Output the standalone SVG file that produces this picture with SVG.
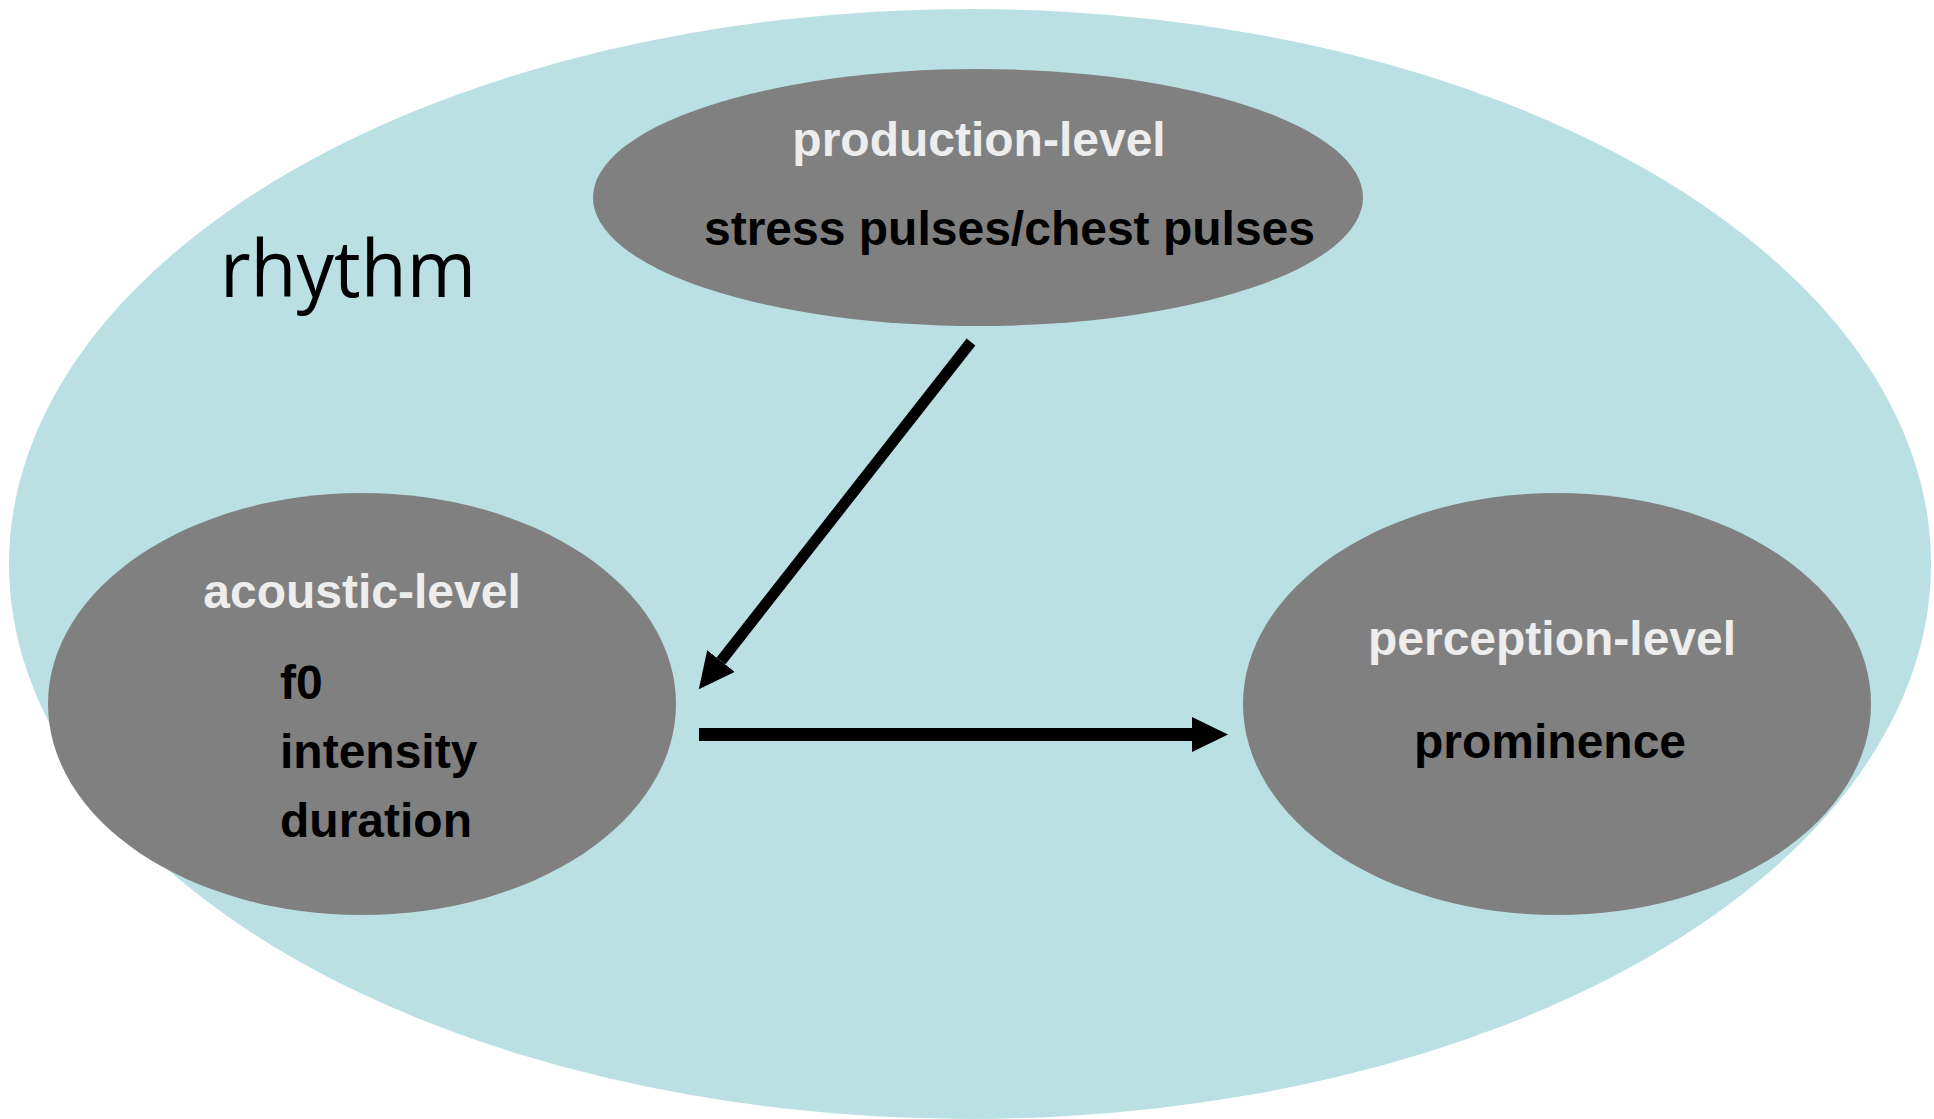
<svg xmlns="http://www.w3.org/2000/svg" width="1934" height="1119" viewBox="0 0 1934 1119">
  <style>
    .node { fill: #808080; }
    .head { font-family: "Liberation Sans", Arial, sans-serif; font-weight: bold; font-size: 48px; fill: #EDEDED; }
    .body { font-family: "Liberation Sans", Arial, sans-serif; font-weight: bold; font-size: 48px; fill: #000000; }
    .conn { stroke: #000000; fill: none; }
  </style>
  <defs>
    <marker id="arrow" markerUnits="userSpaceOnUse" markerWidth="37" markerHeight="36" refX="0" refY="17.5" orient="auto" viewBox="0 0 37 36">
      <path d="M0,0 L36,17.5 L0,35 Z" fill="#000000"/>
    </marker>
  </defs>
  <rect width="1934" height="1119" fill="#FFFFFF"/>
  <g id="rhythm">
    <ellipse cx="970" cy="564" rx="961" ry="555" fill="#BAE0E3"/>
    <text x="220" y="297" font-family="'Open Sans', 'Noto Sans', sans-serif" font-size="79" fill="#000000" textLength="256" lengthAdjust="spacingAndGlyphs">rhythm</text>
  </g>
  <g id="production-level">
    <ellipse class="node" cx="978" cy="197.5" rx="385" ry="128.5"/>
    <text class="head" x="979" y="156" text-anchor="middle">production-level</text>
    <text class="body" x="704" y="245">stress pulses/chest pulses</text>
  </g>
  <g id="acoustic-level">
    <ellipse class="node" cx="362" cy="704" rx="314" ry="211"/>
    <text class="head" x="362" y="608" text-anchor="middle">acoustic-level</text>
    <text class="body" x="280" y="699">f0</text>
    <text class="body" x="280" y="768">intensity</text>
    <text class="body" x="280" y="837">duration</text>
  </g>
  <g id="perception-level">
    <ellipse class="node" cx="1557" cy="704" rx="314" ry="211"/>
    <text class="head" x="1552" y="655" text-anchor="middle">perception-level</text>
    <text class="body" x="1550" y="758" text-anchor="middle">prominence</text>
  </g>
  <g id="connectors">
    <line class="conn" x1="971" y1="342" x2="721" y2="661" stroke-width="11" marker-end="url(#arrow)"/>
    <line class="conn" x1="699" y1="734.5" x2="1192" y2="734.5" stroke-width="13" marker-end="url(#arrow)"/>
  </g>
</svg>
